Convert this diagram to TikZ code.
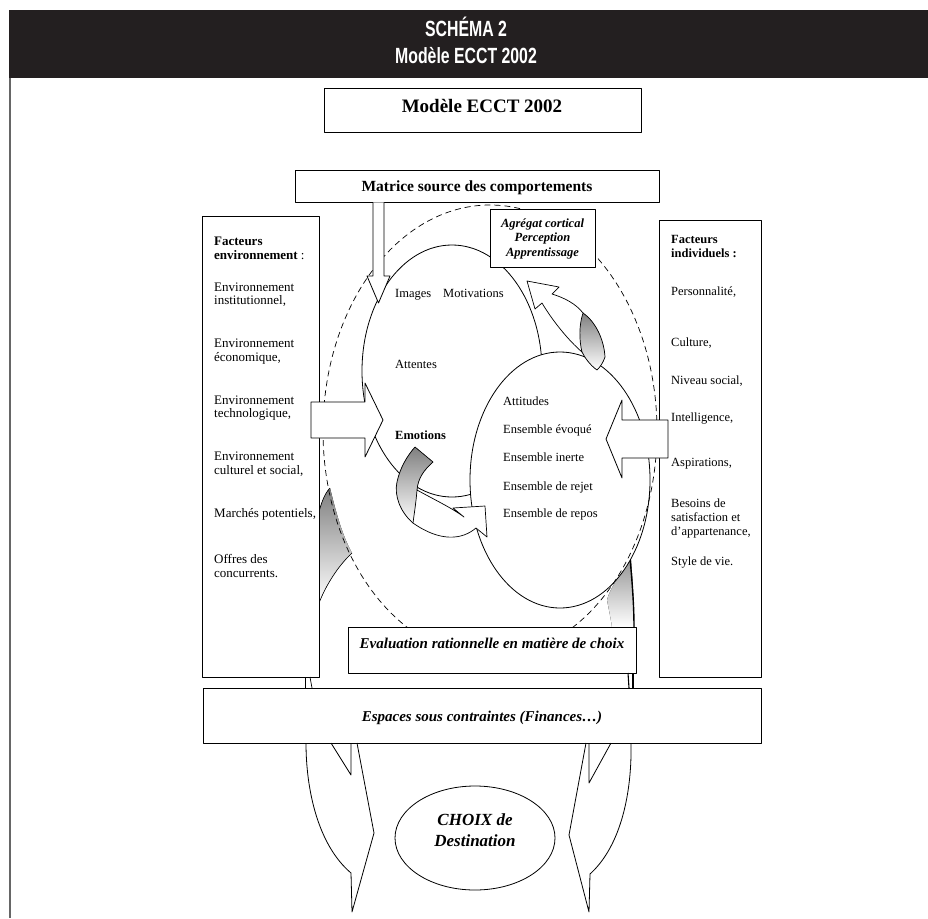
\documentclass[tikz,border=0pt]{standalone}
\usepackage{fontspec}
\setmainfont{Liberation Serif}
\newfontfamily\titlefont[FakeStretch=0.72]{Liberation Sans}
\usetikzlibrary{shapes.geometric}
\definecolor{barblack}{HTML}{231F20}
\definecolor{shade}{RGB}{168,168,168}
\begin{document}
\begin{tikzpicture}[x=1pt,y=-1pt,line join=round,
  box/.style={draw,line width=0.8pt,fill=white,inner sep=0pt},
  t/.style={inner sep=0pt,anchor=base west,font=\fontsize{13}{14}\selectfont},
  tb/.style={inner sep=0pt,anchor=base west,font=\fontsize{13}{14}\selectfont\bfseries},
  ts/.style={inner sep=0pt,anchor=base west,font=\fontsize{12.5}{14}\selectfont},
  tsb/.style={inner sep=0pt,anchor=base west,font=\fontsize{12.5}{14}\selectfont\bfseries},
  ttl/.style={text=white,inner sep=0pt,anchor=base,font=\titlefont\bfseries\fontsize{22}{24}\selectfont},
  bi/.style={inner sep=0pt,anchor=base,font=\bfseries\itshape\fontsize{15}{17}\selectfont},
  ag/.style={inner sep=0pt,anchor=base,font=\bfseries\itshape\fontsize{12.5}{14}\selectfont},
  shp/.style={draw,line width=0.8pt},
  dashline/.style={draw,line width=0.7pt,dash pattern=on 6pt off 4pt}]
\useasboundingbox (0,0) rectangle (928,918);
% ---- title bar and frame
\fill[barblack] (9,10) rectangle (928,78);
\draw[black!60,line width=1.5pt] (9.75,78) -- (9.75,918);
\node[ttl] (t1) at (466,36) {SCHÉMA 2};
\node[ttl] (t2) at (466,63) {Modèle ECCT 2002};
% ---- gray faces of the large curved arrows
\fill[shade] (319,512) .. controls (322,500) and (326,492) .. (330,488)
  .. controls (336,512) and (342,535) .. (352,553)
  .. controls (338,566) and (326,585) .. (319,603) -- cycle;
\draw[line width=0.6pt] (319,512) .. controls (322,500) and (326,492) .. (330,488);
\draw[line width=0.6pt] (352,553) .. controls (338,566) and (326,585) .. (319,603);
\fill[shade] (624,545) -- (630,560) .. controls (620,575) and (610,588) .. (607,600)
  .. controls (609,610) and (611,620) .. (612,627) -- (634,627)
  .. controls (634,605) and (633,585) .. (631,560) -- cycle;
\draw[line width=1.4pt] (630,558) .. controls (632,580) and (634,605) .. (634,627);
% ---- ellipses
\node[shp,ellipse,fill=white,minimum width=180pt,minimum height=252pt,inner sep=0pt] (ell1) at (452,371) {};
\node[shp,ellipse,fill=white,minimum width=180pt,minimum height=256pt,inner sep=0pt] (ell2) at (560,480) {};
\node[dashline,ellipse,minimum width=334pt,minimum height=452pt,inner sep=0pt] (ell0) at (490,431) {};
% ---- top right curved arrow
\fill[shade] (583,313) .. controls (596,322) and (604,340) .. (605,357)
  .. controls (603,363) and (600,367) .. (597,370)
  .. controls (590,365) and (585,358) .. (582,352)
  .. controls (579,340) and (579,325) .. (583,313) -- cycle;
\draw[line width=0.7pt] (583,313) .. controls (596,322) and (604,340) .. (605,357)
  .. controls (603,363) and (600,367) .. (597,370)
  .. controls (590,365) and (585,358) .. (582,352);
\draw[line width=0.7pt,fill=white] (583,313) .. controls (576,304) and (565,298) .. (552,294)
  -- (559,287) -- (527,281) -- (535,309) -- (542,303)
  .. controls (552,320) and (568,340) .. (582,352)
  .. controls (579,340) and (579,325) .. (583,313) -- cycle;
% ---- emotions curved arrow
\fill[shade] (415,447) -- (433,462) .. controls (424,470) and (418,478) .. (417,490)
  .. controls (416,503) and (414,515) .. (413,523)
  .. controls (400,512) and (394,495) .. (397,482)
  .. controls (400,468) and (407,456) .. (415,447) -- cycle;
\draw[line width=0.7pt] (417,490) .. controls (418,478) and (424,470) .. (433,462) -- (415,447)
  .. controls (407,456) and (400,468) .. (397,482)
  .. controls (394,495) and (400,512) .. (413,523);
\draw[line width=0.7pt,fill=white] (417,490) .. controls (435,500) and (452,508) .. (464,517)
  -- (453,508) -- (485,506) -- (487,537) -- (476,528)
  .. controls (462,540) and (440,542) .. (413,523)
  .. controls (414,515) and (416,503) .. (417,490) -- cycle;
% ---- boxes
\node[box,minimum width=317pt,minimum height=44pt] (modele) at (482.5,110) {};
\node[box,minimum width=364pt,minimum height=32pt] (matrice) at (477,186) {};
\node[box,minimum width=105pt,minimum height=58pt] (agregat) at (542.5,238) {};
\node[box,minimum width=117pt,minimum height=461pt] (leftbox) at (260.5,446.5) {};
\node[box,minimum width=102pt,minimum height=457pt] (rightbox) at (710,448.5) {};
\node[box,minimum width=288pt,minimum height=46pt] (eval) at (492,650) {};
\node[box,minimum width=558pt,minimum height=55pt] (espaces) at (482,715.5) {};
% ---- block arrows
\draw[line width=0.8pt,fill=white] (373,202.4) -- (373,276) -- (367,276) -- (378.5,303) -- (390,276) -- (384,276) -- (384,202.4);
\draw[line width=0.8pt,fill=white] (311,402) -- (365,402) -- (365,383) -- (383,420) -- (365,457) -- (365,438) -- (311,438) -- cycle;
\draw[line width=0.8pt,fill=white] (668,420) -- (622,420) -- (622,400) -- (606,439) -- (622,478) -- (622,458) -- (668,458) -- cycle;
% ---- pieces of the large arrows between boxes
\draw[line width=0.7pt] (305,677) -- (305,688);
\draw[line width=0.7pt] (310,677) -- (312,688);
\draw[line width=1.1pt] (628,673) -- (629,688);
\draw[line width=1.1pt] (633,673) -- (633,688);
% ---- large arrows towards the choice
\draw[line width=0.8pt] (306,743) .. controls (306,790) and (318,845) .. (351,873) -- (352,912) -- (374,833) -- (357,743);
\draw[line width=0.8pt] (331,743) -- (351,775) -- (351,743);
\draw[line width=0.8pt] (631,743) .. controls (632,790) and (622,845) .. (590,874) -- (589,912) -- (569,835) -- (586,743);
\draw[line width=0.8pt] (611,743) -- (589,783) -- (589,743);
\node[shp,ellipse,minimum width=160pt,minimum height=104pt,inner sep=0pt] (choix) at (475,838) {};
% ---- texts
\node[inner sep=0pt,anchor=base,font=\bfseries\fontsize{19}{22}\selectfont] (modeletxt) at (482,112) {Modèle ECCT 2002};
\node[inner sep=0pt,anchor=base,font=\bfseries\fontsize{15.5}{18}\selectfont] (matricetxt) at (477,191) {Matrice source des comportements};
\node[ag] (ag1) at (542.5,227) {Agrégat cortical};
\node[ag] (ag2) at (542.5,241) {Perception};
\node[ag] (ag3) at (542.5,256) {Apprentissage};
\node[tb] (l1) at (214,245) {Facteurs};
\node[tb] (l2) at (214,259) {environnement\mdseries\ :};
\node[t] (l3) at (214,291) {Environnement};
\node[t] (l4) at (214,304) {institutionnel,};
\node[t] (l5) at (214,347) {Environnement};
\node[t] (l6) at (214,361) {économique,};
\node[t] (l7) at (214,404) {Environnement};
\node[t] (l8) at (214,417) {technologique,};
\node[t] (l9) at (214,460) {Environnement};
\node[t] (l10) at (214,474) {culturel et social,};
\node[t] (l11) at (214,517) {Marchés potentiels,};
\node[t] (l12) at (214,563) {Offres des};
\node[t] (l13) at (214,577) {concurrents.};
\node[tsb] (r1) at (671,243) {Facteurs};
\node[tsb] (r2) at (671,257) {individuels :};
\node[ts] (r3) at (671,295) {Personnalité,};
\node[ts] (r4) at (671,346) {Culture,};
\node[ts] (r5) at (671,384) {Niveau social,};
\node[ts] (r6) at (671,421) {Intelligence,};
\node[ts] (r7) at (671,466) {Aspirations,};
\node[ts] (r8) at (671,507) {Besoins de};
\node[ts] (r9) at (671,521) {satisfaction et};
\node[ts] (r10) at (671,535) {d’appartenance,};
\node[ts] (r11) at (671,565) {Style de vie.};
\node[ts] (e1) at (395,297) {Images};
\node[ts] (e2) at (443,297) {Motivations};
\node[ts] (e3) at (395,368) {Attentes};
\node[tsb] (e4) at (395,439) {Emotions};
\node[ts] (f1) at (503,405) {Attitudes};
\node[ts] (f2) at (503,433) {Ensemble évoqué};
\node[ts] (f3) at (503,461) {Ensemble inerte};
\node[ts] (f4) at (503,490) {Ensemble de rejet};
\node[ts] (f5) at (503,517) {Ensemble de repos};
\node[bi] (evaltxt) at (492,648) {Evaluation rationnelle en matière de choix};
\node[bi] (espacestxt) at (482,721) {Espaces sous contraintes (Finances…)};
\node[inner sep=0pt,anchor=base,font=\bfseries\itshape\fontsize{17}{20}\selectfont] (c1) at (475,825) {CHOIX de};
\node[inner sep=0pt,anchor=base,font=\bfseries\itshape\fontsize{17}{20}\selectfont] (c2) at (475,846) {Destination};
\end{tikzpicture}
\end{document}
